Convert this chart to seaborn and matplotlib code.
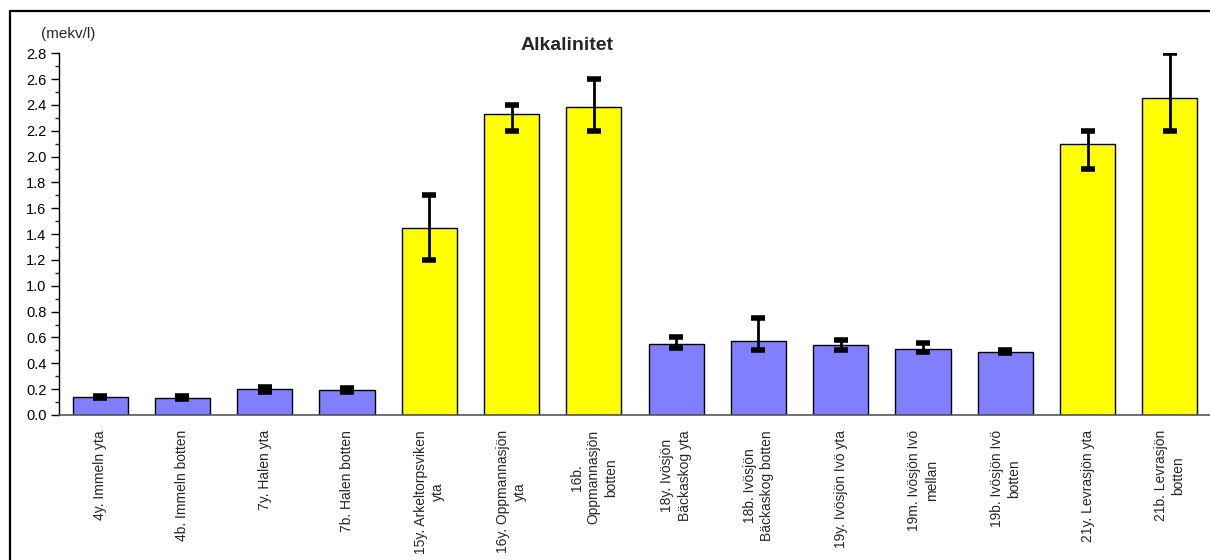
import numpy as np
import pandas as pd
import matplotlib
matplotlib.use("Agg")
import matplotlib.pyplot as plt
from matplotlib.lines import Line2D
from matplotlib.ticker import MultipleLocator, FormatStrFormatter
import seaborn as sns

# data
labels = [
    "4y. Immeln yta",
    "4b. Immeln botten",
    "7y. Halen yta",
    "7b. Halen botten",
    "15y. Arkeltorpsviken\nyta",
    "16y. Oppmannasjön\nyta",
    "16b.\nOppmannasjön\nbotten",
    "18y. Ivösjön\nBäckaskog yta",
    "18b. Ivösjön\nBäckaskog botten",
    "19y. Ivösjön Ivö yta",
    "19m. Ivösjön Ivö\nmellan",
    "19b. Ivösjön Ivö\nbotten",
    "21y. Levrasjön yta",
    "21b. Levrasjön\nbotten",
]
mean_vals = [0.14, 0.13, 0.20, 0.19, 1.45, 2.33, 2.38, 0.55, 0.57, 0.54, 0.51, 0.49, 2.10, 2.45]
min_vals = [0.13, 0.12, 0.18, 0.18, 1.20, 2.20, 2.20, 0.52, 0.50, 0.50, 0.49, 0.48, 1.90, 2.20]
max_vals = [0.15, 0.15, 0.22, 0.21, 1.70, 2.40, 2.60, 0.60, 0.75, 0.58, 0.56, 0.50, 2.20, 2.80]
group = ["sjö", "sjö", "sjö", "sjö", "kalk", "kalk", "kalk", "sjö", "sjö", "sjö", "sjö", "sjö", "kalk", "kalk"]

df = pd.DataFrame({"station": labels, "alk": mean_vals, "lo": min_vals, "hi": max_vals, "grupp": group})

sns.set_style("white")
plt.rcParams["font.family"] = ["Liberation Sans", "DejaVu Sans"]

fig = plt.figure(figsize=(12.1, 5.6), dpi=100)
ax = fig.add_axes([59 / 1210, 0.259, 1152 / 1210, 0.646])

sns.barplot(data=df, x="station", y="alk", hue="grupp",
            palette={"sjö": "#8080FF", "kalk": "#FFFF00"}, saturation=1,
            dodge=False, width=0.67, edgecolor="black", linewidth=1.0,
            legend=False, ax=ax)

# min/max range as error bars
x = np.arange(len(df))
yerr = [df["alk"] - df["lo"], df["hi"] - df["alk"]]
ax.errorbar(x, df["alk"], yerr=yerr, fmt="none", ecolor="black",
            elinewidth=2, capsize=4.7, capthick=4, zorder=5)

ax.set_ylim(0, 2.8)
ax.set_xlim(-0.5, len(df) - 0.5)
ax.yaxis.set_major_locator(MultipleLocator(0.2))
ax.yaxis.set_minor_locator(MultipleLocator(0.1))
ax.yaxis.set_major_formatter(FormatStrFormatter("%.1f"))
ax.tick_params(axis="y", which="major", direction="out", length=6, width=1,
               left=True, labelsize=10.5, pad=3, colors="black")
ax.tick_params(axis="y", which="minor", direction="out", length=3, width=1, left=True)

ax.set_xticks(x)
ax.set_xticklabels(df["station"], rotation=90, ha="center", va="top",
                   multialignment="center", fontsize=10, linespacing=1.3)
ax.tick_params(axis="x", length=0, pad=11)

ax.set_xlabel("")
ax.set_ylabel("")
for s in ["top", "right"]:
    ax.spines[s].set_visible(False)
ax.spines["left"].set_color("black")
ax.spines["bottom"].set_color("#555555")
ax.spines["left"].set_linewidth(1)
ax.spines["bottom"].set_linewidth(1.2)

fig.text(0.469, 0.918, "Alkalinitet", ha="center", va="center",
         fontsize=14, fontweight="bold")
fig.text(0.034, 0.94, "(mekv/l)", ha="left", va="center", fontsize=11)

# outer chart frame (top and left edges visible)
fig.add_artist(Line2D([10 / 1210, 1.0], [1 - 11 / 560, 1 - 11 / 560],
                      transform=fig.transFigure, color="black", linewidth=1.6))
fig.add_artist(Line2D([10 / 1210, 10 / 1210], [0.0, 1 - 11 / 560],
                      transform=fig.transFigure, color="black", linewidth=1.6))

fig.savefig("out.png", dpi=100)
